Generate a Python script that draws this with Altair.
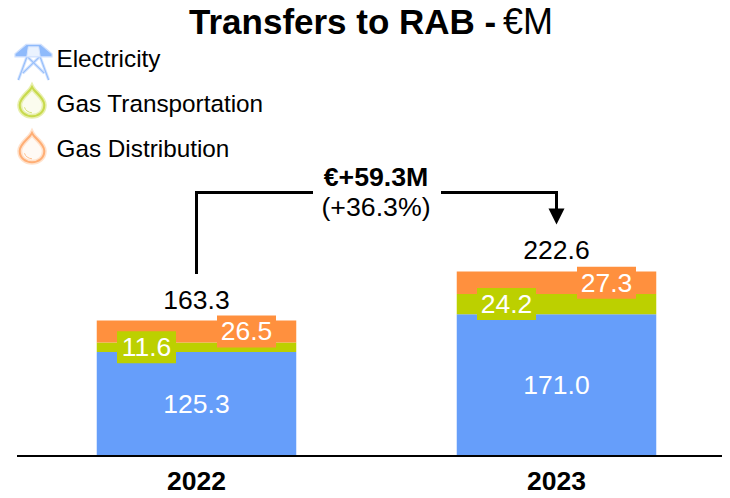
import altair as alt
import pandas as pd

years = ["2022", "2023"]
segments = ["Electricity", "Gas Transportation", "Gas Distribution"]
electricity = [125.3, 171.0]
gas_transport = [11.6, 24.2]
gas_distribution = [26.5, 27.3]
totals = [163.3, 222.6]
colors = ["#669EFA", "#BCD000", "#FF903E"]
title_bold = "Transfers to RAB - "
title_unit = "€M"
delta_abs = "€+59.3M"
delta_pct = "(+36.3%)"

FONT = "Liberation Sans"

rows = []
for i, y in enumerate(years):
    base = 0.0
    for s, vals, off in zip(segments, [electricity, gas_transport, gas_distribution], [0, -50, 50]):
        v = vals[i]
        rows.append(dict(year=y, seg=s, start=base, stop=base + v, mid=base + v / 2, value=f"{v:.1f}", off=off))
        base += v
df = pd.DataFrame(rows)
tot = pd.DataFrame(dict(year=years, total=totals, label=[f"{t:.1f}" for t in totals], zero=[0, 0]))

xs = alt.X("year:N", axis=None, scale=alt.Scale(domain=years, range=[8.5, 728.5], paddingInner=0.4458, paddingOuter=0.2229))
ys = alt.Y("start:Q", axis=None, scale=alt.Scale(domain=[0, 540], range=[448, 0], nice=False))
col = alt.Color("seg:N", legend=None, scale=alt.Scale(domain=segments, range=colors))

bars = alt.Chart(df).mark_bar(opacity=1).encode(x=xs, y=ys, y2="stop:Q", color=col)


def boxes(seg, off):
    return alt.Chart(df[df.seg == seg]).mark_rect(width=59, height=32, xOffset=off).encode(
        x=alt.X("year:N", axis=None), y=alt.Y("mid:Q", axis=None), color=col)


def seg_labels(seg, off):
    return alt.Chart(df[df.seg == seg]).mark_text(font=FONT, fontSize=26.5, color="white", xOffset=off, dy=1).encode(
        x=alt.X("year:N", axis=None), y=alt.Y("mid:Q", axis=None), text="value:N")


total_labels = alt.Chart(tot).mark_text(font=FONT, fontSize=26.5, color="black", baseline="bottom", dy=-6).encode(
    x=alt.X("year:N", axis=None), y=alt.Y("total:Q", axis=None), text="label:N")
year_labels = alt.Chart(tot).mark_text(font=FONT, fontSize=26.5, fontWeight="bold", color="black", baseline="top", dy=13).encode(
    x=alt.X("year:N", axis=None), y=alt.Y("zero:Q", axis=None), text="year:N")
baseline = alt.Chart(tot.head(1)).mark_rule(color="black", strokeWidth=2).encode(
    x=alt.value(9), x2=alt.value(714), y=alt.Y("zero:Q", axis=None))


def label(txt, x, y, size, weight="normal", align="left"):
    return alt.Chart(pd.DataFrame({"t": [txt]})).mark_text(
        font=FONT, fontSize=size, fontWeight=weight, align=align, baseline="middle", color="black"
    ).encode(x=alt.value(x), y=alt.value(y), text="t:N")


def seg_rule(x1, y1, x2, y2):
    if y1 == y2:
        enc = dict(x=alt.value(x1), x2=alt.value(x2), y=alt.value(y1))
    else:
        enc = dict(x=alt.value(x1), y=alt.value(y1), y2=alt.value(y2))
    return alt.Chart(pd.DataFrame({"a": [0]})).mark_rule(color="black", strokeWidth=3).encode(**enc)


def icon(path, x, y, size, fill, stroke, sw, opacity=1.0):
    kw = dict(shape=path, size=size, filled=True, fill=fill, stroke=stroke, strokeWidth=sw, opacity=opacity)
    return alt.Chart(pd.DataFrame({"a": [0]})).mark_point(**kw).encode(x=alt.value(x), y=alt.value(y))


DROP = "M0 -1C.2 -.6 .82 -.3 .82 .2C.82 .68 .43 .95 0 .95C-.43 .95 -.82 .68 -.82 .2C-.82 -.3 -.2 -.6 0 -1Z"
ARC = "M-.5 .35C-.45 .55 -.25 .7 0 .72"
CAP = "M-.4 -.95L.4 -.95L1 -.45L1 -.28L-1 -.28L-1 -.45Z"
CAP_IN = "M-.28 -.82L.28 -.82L.36 -.3L-.36 -.3Z"
LEGS = "M-.35 -.3L-.82 .97M.35 -.3L.82 .97M-.35 -.3L.58 .6M.35 -.3L-.58 .6"

icons = [
    icon(LEGS, 25.5, 54, 1369, "none", "#D3E3FD", 3),
    icon(LEGS, 25.5, 54, 1369, "none", "#96BEFB", 1.1),
    icon(CAP, 25.5, 54, 1369, "#8FBAFB", "#CFE0FD", 1.2),
    icon(CAP_IN, 25.5, 54, 1369, "#EAF2FE", "#D5E4FD", 1),
    icon(DROP, 24, 94, 900, "#FBFCEE", "#E8EFAE", 5),
    icon(DROP, 24, 94, 900, "none", "#C8DA4C", 2),
    icon(ARC, 24, 94, 900, "none", "#D6E27A", 1),
    icon(DROP, 24, 140, 900, "#FFFAF5", "#FFE2CC", 5),
    icon(DROP, 24, 140, 900, "none", "#FFAE75", 2),
    icon(ARC, 24, 140, 900, "none", "#FFC090", 1),
]

arrow = alt.Chart(pd.DataFrame({"a": [0]})).mark_point(
    shape="M-1 -1L1 -1L0 1Z", size=256, filled=True, fill="black", strokeWidth=0, opacity=1
).encode(x=alt.value(548.5), y=alt.value(208.5))

layers = [bars, baseline]
layers += [boxes(segments[1], -50), boxes(segments[2], 50)]
layers += [seg_labels(segments[0], 0), seg_labels(segments[1], -50), seg_labels(segments[2], 50)]
layers += [total_labels, year_labels]
layers += icons
layers += [
    label(title_bold, 181, 14.5, 35, "bold"),
    label(title_unit, 495, 14.5, 36),
    label(segments[0], 48.5, 52, 24.3),
    label(segments[1], 48.5, 97, 24.3),
    label(segments[2], 48.5, 142, 24.3),
    label(delta_abs, 368, 170, 26.7, "bold", "center"),
    label(delta_pct, 368, 200, 26.7, "normal", "center"),
    seg_rule(188.5, 184.5, 188.5, 266),
    seg_rule(187, 184.5, 305, 184.5),
    seg_rule(433, 184.5, 550, 184.5),
    seg_rule(548.5, 184.5, 548.5, 204),
    arrow,
]

chart = alt.layer(*layers).resolve_scale(color="shared").properties(
    width=714, height=490, padding=0, autosize=alt.AutoSizeParams(type="none")
).configure_view(stroke=None)

chart.save("out.html", embed_options={"renderer": "svg", "actions": False})
